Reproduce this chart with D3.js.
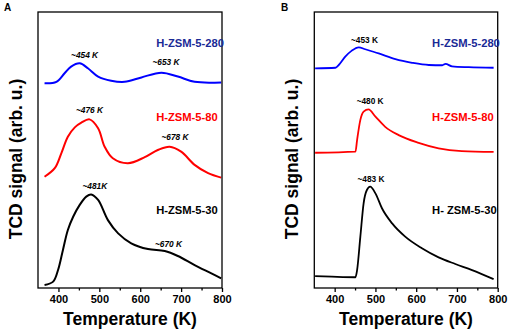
<!DOCTYPE html>
<html>
<head>
<meta charset="utf-8">
<title>TPD profiles</title>
<script src="https://d3js.org/d3.v7.min.js"></script>
<style>
  body { margin: 0; background: #fff; }
  svg { display: block; font-family: "Liberation Sans", Arial, sans-serif; }
  .tick-label { font-size: 11px; font-weight: bold; }
  .axis-title { font-size: 17.5px; font-weight: bold; }
  .sample { font-size: 11.2px; font-weight: bold; }
  .peak { font-size: 8.3px; font-weight: bold; }
</style>
</head>
<body>
<div id="chart"></div>
<script>
// temperatures (K) and signal (arb. u.)

// panel A
var tempA280 = [366, 395, 415, 431, 452, 472, 497, 529, 562, 603, 652, 692, 733, 798];
var sigA280  = [74.2, 74.7, 77.8, 80.2, 81.4, 79.6, 76.6, 75.1, 74.7, 76.3, 78.0, 76.6, 74.7, 74.5];

var tempA80 = [366, 391, 407, 423, 440, 456, 476, 497, 513, 533, 570, 611, 643, 672, 700, 733, 766, 798];
var sigA80  = [40.3, 43.4, 48.8, 54.8, 58.2, 59.9, 61.1, 57.9, 51.2, 47.0, 45.2, 47.4, 50.0, 51.2, 49.4, 44.6, 41.6, 40.0];

var tempA30 = [366, 387, 399, 411, 423, 436, 452, 468, 480, 497, 521, 546, 578, 619, 660, 692, 733, 774, 798];
var sigA30  = [1.1, 2.3, 6.5, 13.8, 21.0, 25.8, 30.1, 33.1, 33.9, 31.9, 24.6, 19.8, 16.2, 14.1, 13.4, 11.6, 8.3, 5.3, 3.5];

// panel B
var tempB280 = [352, 402, 410, 426, 442, 459, 475, 508, 549, 590, 631, 664, 672, 688, 729, 790];
var sigB280  = [79.6, 79.8, 80.8, 83.8, 86.0, 87.2, 86.5, 85.0, 82.9, 81.6, 80.8, 80.7, 81.2, 80.3, 80.0, 79.8];

var tempB80 = [352, 451, 455, 463, 471, 483, 500, 524, 557, 606, 655, 712, 790];
var sigB80  = [49.0, 49.4, 53.6, 60.9, 63.9, 64.7, 62.1, 58.4, 55.4, 52.6, 50.6, 49.6, 49.3];

var tempB30 = [352, 393, 451, 455, 463, 471, 479, 487, 500, 516, 541, 573, 614, 655, 696, 737, 790];
var sigB30  = [4.3, 4.1, 3.9, 6.5, 18.6, 30.7, 35.5, 36.7, 34.3, 28.9, 23.4, 18.6, 14.4, 11.1, 8.7, 6.5, 3.2];

var xTicks = [400, 500, 600, 700, 800];
var xMinor = [450, 550, 650, 750];

var samplesA = ["H-ZSM-5-280", "H-ZSM-5-80", "H-ZSM-5-30"];
var samplesB = ["H-ZSM-5-280", "H-ZSM-5-80", "H- ZSM-5-30"];
var peaksA = ["~454 K", "~653 K", "~476 K", "~678 K", "~481K", "~670 K"];
var peaksB = ["~453 K", "~480 K", "~483 K"];

var W = 510, H = 334;
var svg = d3.select("#chart").append("svg")
  .attr("width", W).attr("height", H);

function zip(t, s) {
  return t.map(function(d, i) { return { t: d, v: s[i] }; });
}

function drawPanel(cfg) {
  var x = d3.scaleLinear().domain([350, 800]).range([cfg.left, cfg.right]);
  var y = d3.scaleLinear().domain([0, 100]).range([288, 12]);

  var g = svg.append("g");

  // curves
  var line = d3.line()
    .x(function(d) { return x(d.t); })
    .y(function(d) { return y(d.v); })
    .curve(cfg.curve);

  cfg.series.forEach(function(s) {
    g.append("path")
      .datum(zip(s.t, s.v))
      .attr("d", line)
      .attr("fill", "none")
      .attr("stroke", s.color)
      .attr("stroke-width", cfg.lw)
      .attr("stroke-linejoin", "round");
  });

  // frame
  g.append("rect")
    .attr("x", cfg.left).attr("y", 12)
    .attr("width", cfg.right - cfg.left).attr("height", 276)
    .attr("fill", "none").attr("stroke", "#000").attr("stroke-width", 1.3);

  // bottom axis
  var ax = g.append("g").attr("transform", "translate(0,288)")
    .call(d3.axisBottom(x).tickValues(xTicks).tickSize(4).tickPadding(3));
  ax.select(".domain").remove();
  ax.selectAll(".tick line").attr("stroke-width", 1.3);
  ax.selectAll(".tick text").attr("class", "tick-label").attr("font-size", null).attr("font-family", null);

  var axm = g.append("g").attr("transform", "translate(0,288)")
    .call(d3.axisBottom(x).tickValues(xMinor).tickSize(2.5).tickFormat(""));
  axm.select(".domain").remove();
  axm.selectAll(".tick line").attr("stroke-width", 1.3);

  // titles
  g.append("text").attr("class", "axis-title")
    .attr("x", (cfg.left + cfg.right) / 2).attr("y", 325)
    .attr("text-anchor", "middle").text("Temperature (K)");

  g.append("text").attr("class", "axis-title")
    .attr("transform", "translate(" + cfg.ylabX + ",159) rotate(-90)")
    .attr("text-anchor", "middle").text("TCD signal (arb. u.)");

  g.append("text")
    .attr("x", cfg.tagX).attr("y", 11)
    .attr("font-size", 10).attr("font-weight", "bold").text(cfg.tag);

  // sample names
  cfg.names.forEach(function(n) {
    g.append("text").attr("class", "sample")
      .attr("x", x(n.t)).attr("y", y(n.v))
      .attr("fill", n.color).text(n.text);
  });

  // peak notes
  cfg.notes.forEach(function(n) {
    g.append("text").attr("class", "peak")
      .attr("x", x(n.t)).attr("y", y(n.v))
      .attr("text-anchor", "middle")
      .attr("font-style", cfg.italic ? "italic" : "normal")
      .text(n.text);
  });
}

var blue = "#0000ff", red = "#ff0000", navy = "#1a2a96";

drawPanel({
  left: 38, right: 222, ylabX: 21.5, tag: "A", tagX: 4,
  curve: d3.curveCatmullRom.alpha(0.5), lw: 2, italic: true,
  series: [
    { t: tempA280, v: sigA280, color: blue },
    { t: tempA80, v: sigA80, color: red },
    { t: tempA30, v: sigA30, color: "#000" }
  ],
  names: [
    { t: 639, v: 87.3, text: samplesA[0], color: navy },
    { t: 639, v: 60.5, text: samplesA[1], color: red },
    { t: 639, v: 26.8, text: samplesA[2], color: "#000" }
  ],
  notes: [
    { t: 464, v: 83.3, text: peaksA[0] },
    { t: 663, v: 80.8, text: peaksA[1] },
    { t: 476, v: 63.4, text: peaksA[2] },
    { t: 685, v: 53.6, text: peaksA[3] },
    { t: 489, v: 35.9, text: peaksA[4] },
    { t: 669, v: 14.9, text: peaksA[5] }
  ]
});

drawPanel({
  left: 314.3, right: 497.7, ylabX: 298, tag: "B", tagX: 281,
  curve: d3.curveMonotoneX, lw: 1.8, italic: false,
  series: [
    { t: tempB280, v: sigB280, color: blue },
    { t: tempB80, v: sigB80, color: red },
    { t: tempB30, v: sigB30, color: "#000" }
  ],
  names: [
    { t: 639, v: 87.3, text: samplesB[0], color: navy },
    { t: 639, v: 60.5, text: samplesB[1], color: red },
    { t: 639, v: 26.8, text: samplesB[2], color: "#000" }
  ],
  notes: [
    { t: 473, v: 88.6, text: peaksB[0] },
    { t: 487, v: 66.7, text: peaksB[1] },
    { t: 489, v: 38.4, text: peaksB[2] }
  ]
});
</script>
</body>
</html>
